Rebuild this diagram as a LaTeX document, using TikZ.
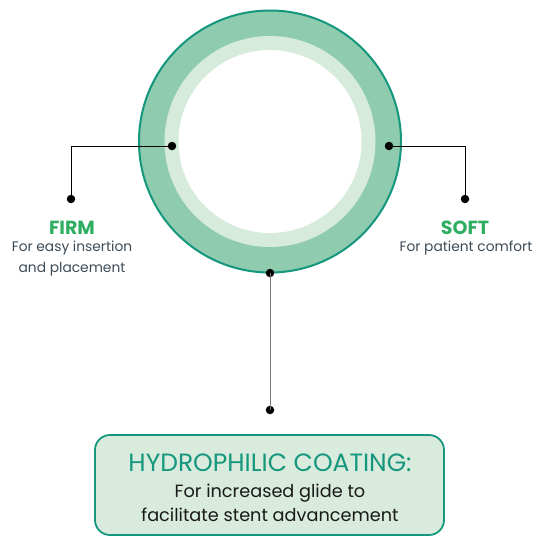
\documentclass[tikz,border=0pt]{standalone}
\usepackage{fontspec}
\setmainfont{Poppins}
\definecolor{ringdark}{HTML}{8FCBAE}
\definecolor{ringlight}{HTML}{D7EBDC}
\definecolor{teal}{HTML}{15977D}
\definecolor{labgreen}{HTML}{2FAE62}
\definecolor{bodygray}{HTML}{3D4B57}
\definecolor{boxfill}{HTML}{D9EBDC}
\tikzset{
  dot/.style={circle,fill=black,inner sep=0pt,minimum size=8.5pt},
  conn/.style={draw=black,line width=1pt},
  head/.style={font=\fontsize{19}{20}\selectfont\bfseries,text=labgreen,inner sep=0pt},
  desc/.style={font=\fontsize{13.8}{20.5}\selectfont,text=bodygray,align=center,inner sep=0pt},
}
\begin{document}
\begin{tikzpicture}[x=1pt,y=-1pt]
\useasboundingbox (0,0) rectangle (538,536);
% rings
\fill[ringdark] (270,141.5) circle (131.5);
\draw[teal,line width=2pt] (270,141.5) circle (131);
\fill[ringlight] (270,141.5) circle (105.5);
\fill[white] (270,141.5) circle (91.5);
% dots
\node[dot] (dl) at (172,146) {};
\node[dot] (dr) at (389,146) {};
\node[dot] (db) at (270,273) {};
\node[dot] (el) at (71,199) {};
\node[dot] (er) at (465,199) {};
\node[dot] (eb) at (270,410) {};
\draw[conn] (dl.center) -| (el.center);
\draw[conn] (dr.center) -| (er.center);
\draw[conn,draw=black!55] (db.center) -- (eb.center);
% labels
\node[head] (firm) at (72,228) {FIRM};
\node[desc] (firmd) at (72,258.5) {For easy insertion\\and placement};
\node[head] (soft) at (465,228) {SOFT};
\node[desc] (softd) at (466,248) {For patient comfort};
% box
\draw[teal,fill=boxfill,line width=1.8pt,rounded corners=15pt] (95,435) rectangle (444,535);
\node[font=\fontsize{25}{27}\selectfont,text=teal,inner sep=0pt] (hc) at (270,463) {HYDROPHILIC COATING:};
\node[font=\fontsize{17.7}{24}\selectfont,text=black!90,align=center,inner sep=0pt] (hcd) at (270,503) {For increased glide to\\facilitate stent advancement};
\end{tikzpicture}
\end{document}
